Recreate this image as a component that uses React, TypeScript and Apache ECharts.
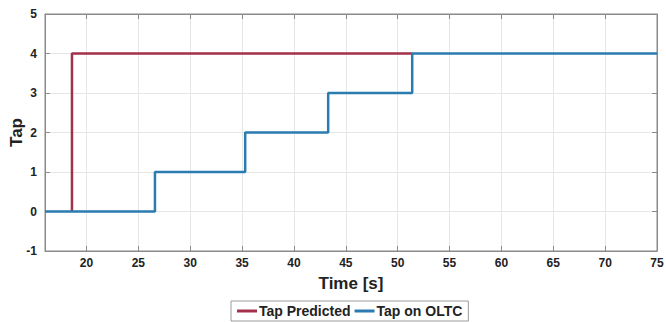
import React, { useEffect, useRef } from "react";
import * as echarts from "echarts";

const tapPredicted: [number, number][] = [
  [18.6, 0],
  [18.6, 4],
  [51.4, 4],
];
const tapOnOLTC: [number, number][] = [
  [16, 0],
  [26.6, 1],
  [35.3, 2],
  [43.3, 3],
  [51.4, 4],
  [75, 4],
];
const xTicks = [20, 25, 30, 35, 40, 45, 50, 55, 60, 65, 70, 75];
const yTicks = [-1, 0, 1, 2, 3, 4, 5];

export default function App() {
  const ref = useRef<HTMLDivElement>(null);
  useEffect(() => {
    document.body.style.margin = "0";
    if (!ref.current) return;
    const chart = echarts.init(ref.current, undefined, { renderer: "svg" });
    const font = "Liberation Sans, Arial, sans-serif";
    const axisColor = "#8a8a8a";
    chart.setOption({
      animation: false,
      grid: {
        left: 45,
        right: 9,
        top: 14,
        bottom: 71,
        show: true,
        borderColor: axisColor,
        borderWidth: 1,
        containLabel: false,
        outerBoundsMode: "none",
      },
      legend: {
        bottom: 1,
        left: 231,
        itemWidth: 20,
        itemHeight: 3,
        itemGap: 4,
        padding: [3, 6, 3, 6],
        borderColor: "#9a9a9a",
        borderWidth: 1,
        backgroundColor: "#fff",
        icon: "rect",
        textStyle: { fontFamily: font, fontWeight: "bold", fontSize: 14, color: "#222", padding: [0, 0, 0, -3] },
        data: ["Tap Predicted", "Tap on OLTC"],
      },
      xAxis: [
        {
          type: "value",
          min: 16,
          max: 75,
          interval: 5,
          name: "Time [s]",
          nameLocation: "middle",
          nameGap: 24,
          nameMoveOverlap: false,
          nameTextStyle: { fontFamily: font, fontWeight: "bold", fontSize: 17, color: "#222" },
          axisLine: { show: true, onZero: false, lineStyle: { color: axisColor } },
          axisTick: { show: true, inside: true, length: 5, lineStyle: { color: axisColor }, customValues: xTicks },
          axisLabel: {
            fontFamily: font,
            fontWeight: "bold",
            fontSize: 12,
            color: "#222",
            margin: 6,
            customValues: xTicks,
          },
          splitLine: { show: true, lineStyle: { color: "#e6e6e6" } },
        },
        {
          type: "value",
          position: "top",
          min: 16,
          max: 75,
          interval: 5,
          axisLine: { show: true, onZero: false, lineStyle: { color: axisColor } },
          axisTick: { show: true, inside: true, length: 5, lineStyle: { color: axisColor }, customValues: xTicks },
          axisLabel: { show: false },
          splitLine: { show: false },
        },
      ],
      yAxis: [
        {
          type: "value",
          min: -1,
          max: 5,
          interval: 1,
          name: "Tap",
          nameLocation: "middle",
          nameGap: 20,
          nameMoveOverlap: false,
          nameTextStyle: { fontFamily: font, fontWeight: "bold", fontSize: 17, color: "#222" },
          axisLine: { show: true, onZero: false, lineStyle: { color: axisColor } },
          axisTick: { show: true, inside: true, length: 5, lineStyle: { color: axisColor } },
          axisLabel: {
            fontFamily: font,
            fontWeight: "bold",
            fontSize: 12,
            color: "#222",
            margin: 8,
            customValues: yTicks,
          },
          splitLine: { show: true, lineStyle: { color: "#e6e6e6" } },
        },
        {
          type: "value",
          position: "right",
          min: -1,
          max: 5,
          interval: 1,
          axisLine: { show: true, onZero: false, lineStyle: { color: axisColor } },
          axisTick: { show: true, inside: true, length: 5, lineStyle: { color: axisColor } },
          axisLabel: { show: false },
          splitLine: { show: false },
        },
      ],
      series: [
        {
          name: "Tap Predicted",
          type: "line",
          data: tapPredicted,
          showSymbol: false,
          symbol: "none",
          color: "#A2304A",
          lineStyle: { width: 2.5, color: "#A2304A" },
          z: 2,
        },
        {
          name: "Tap on OLTC",
          type: "line",
          step: "end",
          data: tapOnOLTC,
          showSymbol: false,
          symbol: "none",
          color: "#2A7BB0",
          lineStyle: { width: 2.5, color: "#2A7BB0" },
          z: 3,
        },
      ],
    });
    return () => chart.dispose();
  }, []);
  return <div ref={ref} style={{ width: 666, height: 322, background: "#fff" }} />;
}
